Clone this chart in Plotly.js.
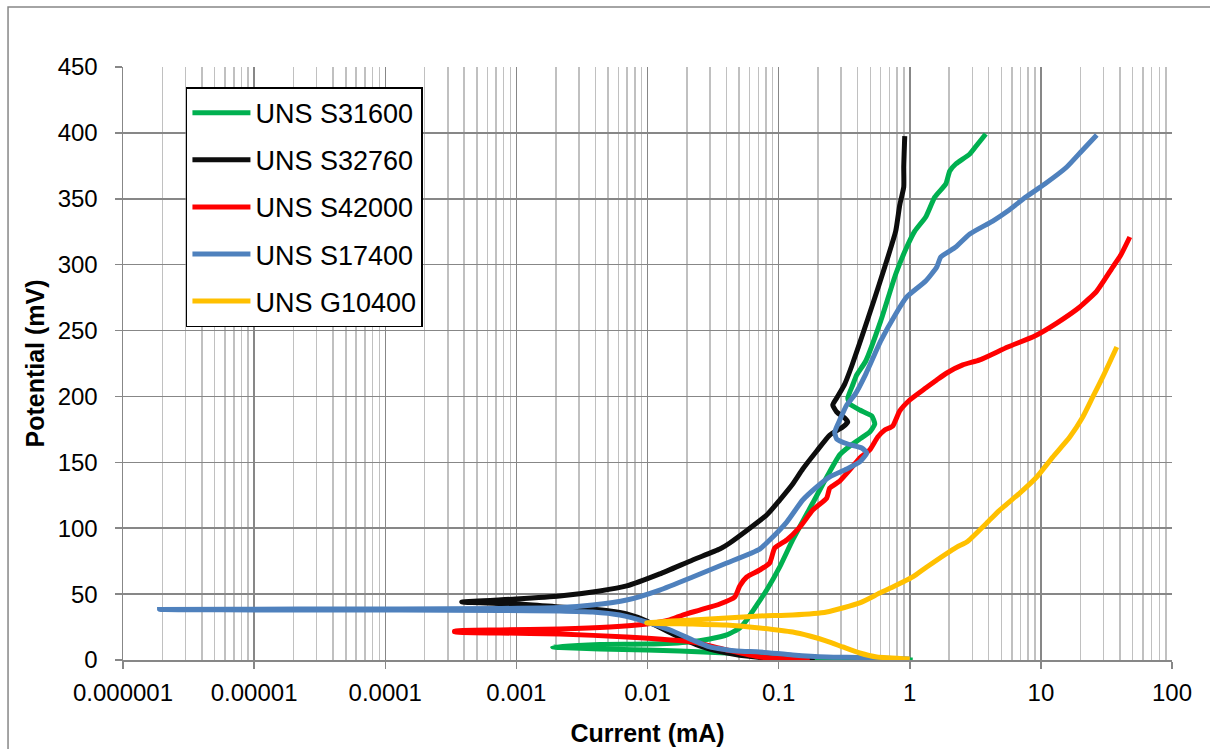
<!DOCTYPE html>
<html>
<head>
<meta charset="utf-8">
<script src="https://cdn.plot.ly/plotly-3.0.1.min.js"></script>
<style>
  html, body { margin: 0; padding: 0; background: #ffffff; }
  #chart { width: 1210px; height: 749px; }
</style>
</head>
<body>
<div id="chart"></div>
<script>
// Current (mA) and Potential (mV), in drawing order
const s31600_current = [1.054, 0.59, 0.349, 0.173, 0.102, 0.0402, 0.0176, 0.00986, 0.00432, 0.00214, 0.00189,
  0.00432, 0.00986, 0.021, 0.0298, 0.0402, 0.0505, 0.0571, 0.0681, 0.0811, 0.102, 0.128, 0.182, 0.233, 0.292,
  0.349, 0.416, 0.495, 0.541, 0.513, 0.416, 0.349, 0.337, 0.3675, 0.394, 0.462, 0.601, 0.782, 0.949, 1.092,
  1.324, 1.551, 1.882, 2.019, 2.243, 2.869, 3.302, 3.8];
const s31600_potential = [0, 0.4, 0.8, 1.5, 3.0, 5.3, 6.8, 7.6, 8.3, 9.5, 9.9,
  11.8, 12.1, 13.7, 15.9, 19.0, 24.3, 30.4, 41.7, 53.1, 70.6, 91.1, 119.1, 138.9, 155.6,
  162.4, 167.7, 173.0, 179.1, 185.2, 189.7, 194.3, 198.8, 208.7, 216.3, 226.9, 257.3, 292.9, 313.4, 325.5,
  336.2, 351.3, 361.2, 371.1, 376.4, 384.0, 391.6, 399.2];

const s32760_current = [0.1886, 0.1215, 0.0811, 0.0571, 0.0447, 0.0298, 0.025, 0.01557, 0.00986, 0.00694,
  0.00515, 0.00362, 0.00214, 0.00106, 0.000383,
  0.000988, 0.00214, 0.00432, 0.00694, 0.0124, 0.0221, 0.0356, 0.0424, 0.0811, 0.1019, 0.1281, 0.1527,
  0.1953, 0.2454, 0.3083, 0.3366, 0.3192, 0.2774, 0.2587, 0.2774, 0.3192, 0.3611, 0.4381, 0.5314, 0.6447,
  0.7818, 0.8388, 0.9, 0.9, 0.916];
const s32760_potential = [0, 0.8, 1.5, 3.0, 4.6, 8.3, 10.6, 19.7, 29.6, 34.9,
  37.2, 38.7, 40.2, 42.5, 44.0,
  46.3, 48.6, 52.4, 56.2, 65.3, 75.9, 84.2, 88.8, 110.0, 121.4, 133.6, 144.9,
  158.6, 170.7, 176.8, 180.6, 183.6, 188.2, 193.5, 198.8, 209.4, 223.1, 247.4, 272.4, 298.2,
  325.5, 345.3, 358.9, 374.1, 397.6];

const s42000_current = [0.1727, 0.0718, 0.0402, 0.0221, 0.00694, 0.00214, 0.000746, 0.000338,
  0.000338, 0.000746, 0.00214, 0.00515, 0.00986, 0.01476, 0.01855, 0.025, 0.0356, 0.0463, 0.0505, 0.0571, 0.0718,
  0.0855, 0.0934, 0.1153, 0.145, 0.182, 0.2327, 0.2454, 0.2924, 0.3486, 0.4155, 0.4953, 0.570, 0.6447,
  0.742, 0.8388, 1.0, 1.324, 1.607, 1.915, 2.537, 3.42, 5.592, 8.985, 13.22, 19.81, 26.69, 35.35, 40.69, 47.66];
const s42000_potential = [0, 2.3, 7.6, 13.7, 17.5, 19.7, 20.5, 21.2,
  22.0, 22.8, 23.5, 25.0, 27.3, 30.4, 34.1, 37.9, 42.5, 47.8, 56.2, 63.0,
  68.3, 73.6, 85.0, 91.1, 100.9, 113.8, 122.9, 130.5, 135.8, 144.2, 153.3, 159.4, 169.2,
  174.5, 177.6, 189.0, 197.3, 206.4, 212.5, 217.8, 223.9, 227.7, 237.5, 245.9, 255.7, 267.9, 280.0, 298.2, 307.3, 321.0];

const s17400_current = [1.0, 0.4155, 0.2327, 0.1281, 0.0718, 0.0479, 0.0298, 0.0221, 0.01476, 0.00986,
  0.00614, 0.00382, 0.00214, 0.000746, 0.0001288, 0.00002224, 0.0000019,
  0.00002224, 0.0001288, 0.000746, 0.00214, 0.00382, 0.00694, 0.0124, 0.0221, 0.0402, 0.0718, 0.0855,
  0.1153, 0.1527, 0.1953, 0.2454, 0.3307, 0.4155, 0.4699, 0.4305, 0.3366, 0.2774, 0.2679, 0.2924, 0.3307,
  0.3805, 0.4618, 0.6009, 0.7818, 0.9487, 1.324, 1.607, 1.724, 2.243, 2.869, 4.297, 5.592, 7.671, 10.71,
  15.76, 20.51, 26.69];
const s17400_potential = [0.8, 1.9, 2.3, 3.8, 6.1, 6.8, 9.9, 15.2, 22.8, 28.8,
  34.1, 36.4, 37.2, 37.6, 37.9, 37.9, 38.3,
  38.7, 38.7, 39.1, 39.8, 41.7, 45.5, 53.1, 63.0, 73.6, 84.2, 91.1,
  104.7, 121.4, 131.3, 138.9, 144.9, 150.3, 157.1, 160.9, 163.9, 167.7, 173.0, 182.1, 193.5,
  201.1, 217.0, 242.1, 262.6, 275.5, 287.6, 298.2, 305.8, 313.4, 323.3, 333.1, 340.7, 351.3, 361.2,
  374.1, 386.3, 398.4];

const g10400_current = [1.0, 0.56, 0.4155, 0.3083, 0.2327, 0.1727, 0.1281, 0.0718, 0.0402, 0.0221, 0.00986,
  0.0221, 0.0402, 0.0718, 0.1281, 0.2327, 0.4155, 0.59, 0.742, 1.054, 1.348, 2.283, 2.721, 3.867, 4.859,
  6.903, 9.306, 12.32, 16.61, 20.87, 24.88, 29.67, 37.93];
const g10400_potential = [0.8, 2.3, 5.3, 9.9, 14.4, 18.2, 21.2, 24.3, 26.6, 27.3, 28.1,
  30.4, 31.9, 33.4, 34.1, 36.4, 43.3, 50.8, 55.4, 63.0, 70.6, 85.7, 89.5, 104.0, 113.8,
  126.7, 138.9, 154.0, 169.2, 184.4, 199.6, 214.8, 237.5];

const seriesNames = ["UNS S31600", "UNS S32760", "UNS S42000", "UNS S17400", "UNS G10400"];
const seriesColors = ["#00B050", "#0D0D0D", "#FF0000", "#4F81BD", "#FFC000"];
const xTickVals = [0.000001, 0.00001, 0.0001, 0.001, 0.01, 0.1, 1, 10, 100];
const xTickText = ["0.000001", "0.00001", "0.0001", "0.001", "0.01", "0.1", "1", "10", "100"];

const xs = [s31600_current, s32760_current, s42000_current, s17400_current, g10400_current];
const ys = [s31600_potential, s32760_potential, s42000_potential, s17400_potential, g10400_potential];

const traces = seriesNames.map((name, i) => ({
  type: "scatter",
  mode: "lines",
  name: name,
  legendgroup: "g" + i,
  x: xs[i],
  y: ys[i],
  line: { color: seriesColors[i], width: 5, shape: "spline", smoothing: 0.5 },
  hoverinfo: "skip"
}));

const gridMajor = "#878787";
const gridMinor = "#C0C0C0";
const fam = "Liberation Sans, Arial, sans-serif";

const layout = {
  width: 1210,
  height: 749,
  margin: { l: 123, r: 38, t: 67, b: 89 },
  paper_bgcolor: "#ffffff",
  plot_bgcolor: "#ffffff",
  font: { family: fam, color: "#000000", size: 24 },
  showlegend: true,
  legend: {
    x: 0.06, y: 0.966, xanchor: "left", yanchor: "top",
    bgcolor: "#ffffff", bordercolor: "#000000", borderwidth: 1.5,
    font: { family: fam, size: 27, color: "#000000" },
    traceorder: "grouped", tracegroupgap: 9, itemwidth: 58
  },
  xaxis: {
    type: "log",
    range: [-6, 2],
    tickmode: "array",
    tickvals: xTickVals,
    ticktext: xTickText,
    showgrid: true,
    gridcolor: gridMajor,
    gridwidth: 1.5,
    minor: { dtick: "D1", showgrid: true, gridcolor: gridMinor, gridwidth: 1.5, ticks: "" },
    showline: true, linecolor: gridMajor, linewidth: 1.5,
    ticks: "outside", ticklen: 7, tickwidth: 1.5, tickcolor: gridMajor,
    tickfont: { size: 24 },
    ticklabelstandoff: 4,
    zeroline: false,
    title: { text: "Current (mA)", font: { size: 25, family: fam, weight: "bold" }, standoff: 19 },
    layer: "below traces"
  },
  yaxis: {
    range: [0, 450],
    tickmode: "linear", tick0: 0, dtick: 50,
    showgrid: true, gridcolor: gridMajor, gridwidth: 1.5,
    showline: true, linecolor: gridMajor, linewidth: 1.5,
    ticks: "outside", ticklen: 7, tickwidth: 1.5, tickcolor: gridMajor,
    tickfont: { size: 24 },
    ticklabelstandoff: 12,
    zeroline: false,
    title: { text: "Potential (mV)", font: { size: 25, family: fam, weight: "bold" }, standoff: 6 },
    layer: "below traces"
  },
  shapes: [
    { type: "rect", xref: "paper", yref: "paper", x0: -0.1096, x1: 1.2, y0: -0.3, y1: 1.1012,
      line: { color: "#878787", width: 1.5 }, fillcolor: "rgba(0,0,0,0)", layer: "below" }
  ]
};

Plotly.newPlot("chart", traces, layout, { displayModeBar: false, staticPlot: true });
</script>
</body>
</html>
